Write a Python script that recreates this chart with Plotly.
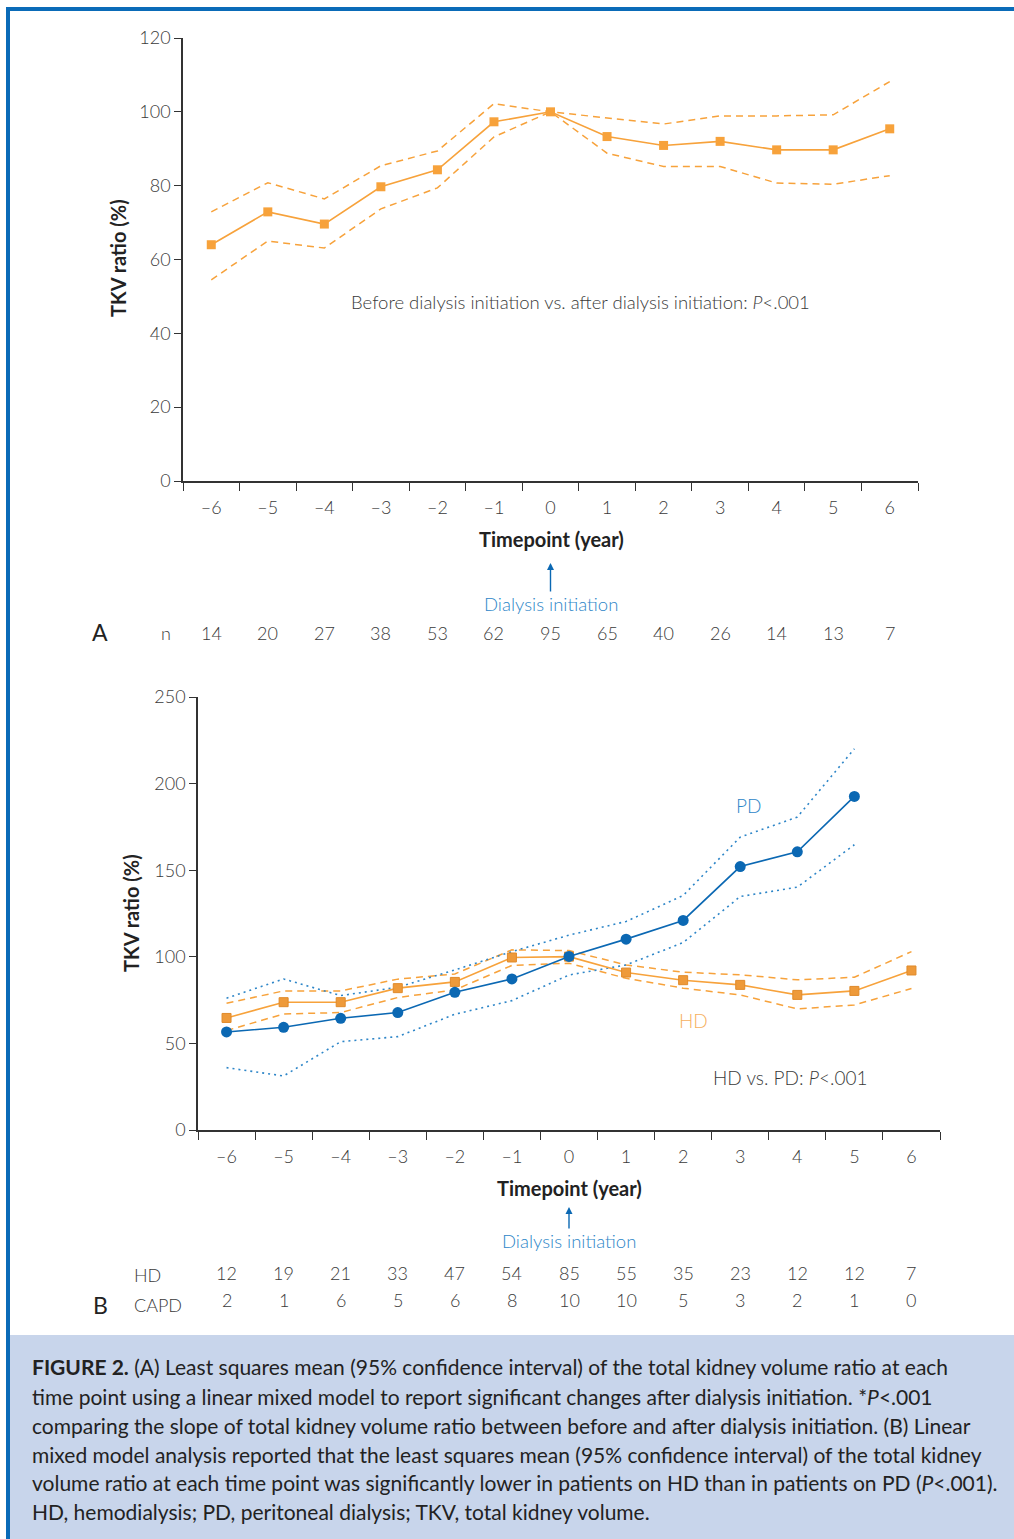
import plotly.graph_objects as go

W, H = 1014, 1539

# ---------------- data ----------------
years = [-6, -5, -4, -3, -2, -1, 0, 1, 2, 3, 4, 5, 6]
year_labels = ["–6", "–5", "–4", "–3", "–2", "–1", "0", "1", "2", "3", "4", "5", "6"]

a_mean = [64.0, 72.9, 69.6, 79.7, 84.3, 97.3, 100.0, 93.3, 90.9, 92.0, 89.7, 89.7, 95.4]
a_upper = [72.9, 80.8, 76.4, 85.4, 89.4, 102.2, 100.0, 98.3, 96.7, 98.9, 98.9, 99.2, 108.2]
a_lower = [54.5, 65.0, 63.1, 73.7, 79.4, 93.2, 100.0, 88.8, 85.2, 85.2, 80.7, 80.4, 82.7]
a_n = [14, 20, 27, 38, 53, 62, 95, 65, 40, 26, 14, 13, 7]

hd_mean = [64.7, 73.8, 73.8, 81.9, 85.5, 99.6, 100.1, 90.9, 86.5, 83.8, 78.0, 80.3, 92.1]
hd_upper = [73.2, 80.3, 80.3, 87.1, 90.1, 104.0, 103.6, 95.3, 91.1, 89.6, 86.7, 88.2, 103.0]
hd_lower = [57.4, 67.0, 67.8, 76.5, 80.9, 95.0, 96.3, 87.6, 81.9, 78.0, 69.9, 72.2, 81.7]

pd_years = [-6, -5, -4, -3, -2, -1, 0, 1, 2, 3, 4, 5]
pd_mean = [56.6, 59.3, 64.5, 67.8, 79.5, 87.2, 100.2, 110.2, 121.0, 152.1, 160.6, 192.6]
pd_upper = [76.1, 87.2, 77.6, 82.4, 92.4, 103.0, 112.5, 120.4, 135.4, 169.1, 180.7, 220.1]
pd_lower = [36.0, 31.2, 51.0, 53.9, 66.8, 74.7, 89.5, 95.3, 108.2, 134.8, 140.2, 164.7]

n_hd = [12, 19, 21, 33, 47, 54, 85, 55, 35, 23, 12, 12, 7]
n_capd = [2, 1, 6, 5, 6, 8, 10, 10, 5, 3, 2, 1, 0]

a_yticks = [0, 20, 40, 60, 80, 100, 120]
b_yticks = [0, 50, 100, 150, 200, 250]

caption_lines = [
    "<b>FIGURE 2.</b> (A) Least squares mean (95% confidence interval) of the total kidney volume ratio at each",
    "time point using a linear mixed model to report significant changes after dialysis initiation. *<i>P</i>&lt;.001",
    "comparing the slope of total kidney volume ratio between before and after dialysis initiation. (B) Linear",
    "mixed model analysis reported that the least squares mean (95% confidence interval) of the total kidney",
    "volume ratio at each time point was significantly lower in patients on HD than in patients on PD (<i>P</i>&lt;.001).",
    "HD, hemodialysis; PD, peritoneal dialysis; TKV, total kidney volume.",
]

# ---------------- style ----------------
FONT = "Lato"
LIGHT = 300
ORANGE = "#F7A23B"
ORANGE_MK = "#EE9A3A"
BLUE = "#0B68B3"
BLUE_TXT = "#2E86C8"
TXT = "#3a3a3a"
AX = "#333333"


def px_x(p):
    return p / W


def px_y(p):
    return 1 - p / H


fig = go.Figure()

# Panel A
fig.add_trace(go.Scatter(x=years, y=a_upper, mode="lines", xaxis="x", yaxis="y",
                         line=dict(color=ORANGE, width=1.5, dash="7px,5px"), cliponaxis=False, showlegend=False))
fig.add_trace(go.Scatter(x=years, y=a_lower, mode="lines", xaxis="x", yaxis="y",
                         line=dict(color=ORANGE, width=1.5, dash="7px,5px"), cliponaxis=False, showlegend=False))
fig.add_trace(go.Scatter(x=years, y=a_mean, mode="lines+markers", xaxis="x", yaxis="y",
                         line=dict(color=ORANGE, width=1.6),
                         marker=dict(symbol="square", size=9, color=ORANGE),
                         cliponaxis=False, showlegend=False))

# Panel B
fig.add_trace(go.Scatter(x=years, y=hd_upper, mode="lines", xaxis="x2", yaxis="y2",
                         line=dict(color=ORANGE, width=1.5, dash="7px,5px"), cliponaxis=False, showlegend=False))
fig.add_trace(go.Scatter(x=years, y=hd_lower, mode="lines", xaxis="x2", yaxis="y2",
                         line=dict(color=ORANGE, width=1.5, dash="7px,5px"), cliponaxis=False, showlegend=False))
fig.add_trace(go.Scatter(x=pd_years, y=pd_upper, mode="lines", xaxis="x2", yaxis="y2",
                         line=dict(color=BLUE_TXT, width=1.6, dash="2px,4px"), cliponaxis=False, showlegend=False))
fig.add_trace(go.Scatter(x=pd_years, y=pd_lower, mode="lines", xaxis="x2", yaxis="y2",
                         line=dict(color=BLUE_TXT, width=1.6, dash="2px,4px"), cliponaxis=False, showlegend=False))
fig.add_trace(go.Scatter(x=years, y=hd_mean, mode="lines+markers", xaxis="x2", yaxis="y2",
                         line=dict(color=ORANGE, width=1.6),
                         marker=dict(symbol="square", size=9, color=ORANGE_MK,
                                     line=dict(color="#E08A2A", width=1)),
                         cliponaxis=False, showlegend=False))
fig.add_trace(go.Scatter(x=pd_years, y=pd_mean, mode="lines+markers", xaxis="x2", yaxis="y2",
                         line=dict(color=BLUE, width=1.6),
                         marker=dict(symbol="circle", size=11, color=BLUE),
                         cliponaxis=False, showlegend=False))

half_ticks = [y - 0.5 for y in years] + [years[-1] + 0.5]

xaxis_common = dict(
    range=[-6.5, 6.5], tickmode="array", tickvals=years, ticktext=year_labels,
    ticks="outside", ticklen=10, tickcolor="rgba(0,0,0,0)", showline=True, linecolor=AX,
    linewidth=1.5, showgrid=False, zeroline=False, fixedrange=True, automargin=False,
    tickfont=dict(family=FONT, size=18, color=TXT, weight=LIGHT),
    minor=dict(tickmode="array", tickvals=half_ticks, ticks="outside", ticklen=8,
               tickcolor=AX, tickwidth=1.3, showgrid=False),
)
yaxis_common = dict(
    tickmode="array", ticks="outside", ticklen=7, tickcolor=AX, tickwidth=1.3,
    showline=True, linecolor=AX, linewidth=1.5, showgrid=False, zeroline=False,
    fixedrange=True, automargin=False,
    tickfont=dict(family=FONT, size=18, color=TXT, weight=LIGHT),
)

fig.update_layout(
    width=W, height=H, margin=dict(l=0, r=0, t=0, b=0, pad=0, autoexpand=False),
    paper_bgcolor="white", plot_bgcolor="rgba(0,0,0,0)",
    font=dict(family=FONT, color=TXT),
    xaxis=dict(domain=[px_x(183), px_x(918)], anchor="y", **xaxis_common),
    yaxis=dict(domain=[px_y(481), px_y(38)], anchor="x", range=[0, 120],
               tickvals=a_yticks, **yaxis_common),
    xaxis2=dict(domain=[px_x(198), px_x(940)], anchor="y2", **xaxis_common),
    yaxis2=dict(domain=[px_y(1130), px_y(697)], anchor="x2", range=[0, 250],
                tickvals=b_yticks, **yaxis_common),
    showlegend=False,
)

ann = []


def text(x, y, s, size=18, color=TXT, xanchor="center", xref="paper", angle=0, weight=LIGHT):
    ann.append(dict(x=x, y=y, xref=xref, yref="paper", text=s, showarrow=False,
                    xanchor=xanchor, yanchor="middle", textangle=angle,
                    font=dict(family=FONT, size=size, color=color, weight=weight)))


# Panel A texts
text(px_x(118), px_y(258), "<b>TKV ratio (%)</b>", size=20, color="#222", angle=-90, weight=400)
text(px_x(551), px_y(539), "<b>Timepoint (year)</b>", size=20, color="#222", weight=400)
text(px_x(580), px_y(302), "Before dialysis initiation vs. after dialysis initiation: <i>P</i>&lt;.001", size=18.5)
text(px_x(100), px_y(632), "A", size=23, color="#222", weight=400)
text(px_x(166), px_y(633), "n", size=18)
for yr, n in zip(years, a_n):
    ann.append(dict(x=yr, y=px_y(633), xref="x", yref="paper", text=str(n), showarrow=False,
                    yanchor="middle", font=dict(family=FONT, size=18, color=TXT, weight=LIGHT)))
ann.append(dict(x=0, y=px_y(563), xref="x", yref="paper", ax=0, ay=41, axref="pixel", ayref="pixel",
                text="Dialysis initiation", showarrow=True, arrowhead=2, arrowsize=1, arrowwidth=1.4,
                arrowcolor=BLUE, font=dict(family=FONT, size=18.5, color=BLUE_TXT, weight=LIGHT)))

# Panel B texts
text(px_x(131), px_y(913), "<b>TKV ratio (%)</b>", size=20, color="#222", angle=-90, weight=400)
text(px_x(569), px_y(1188), "<b>Timepoint (year)</b>", size=20, color="#222", weight=400)
text(px_x(790), px_y(1077), "HD vs. PD: <i>P</i>&lt;.001", size=19)
text(px_x(748), px_y(805), "PD", size=19, color=BLUE_TXT)
text(px_x(693), px_y(1020), "HD", size=19, color="#F6B060")
text(px_x(100), px_y(1305), "B", size=23, color="#222", weight=400)
text(px_x(132), px_y(1275), "HD", size=18, xanchor="left")
text(px_x(132), px_y(1305), "CAPD", size=18, xanchor="left")
for yr, a, b in zip(years, n_hd, n_capd):
    ann.append(dict(x=yr, y=px_y(1273), xref="x2", yref="paper", text=str(a), showarrow=False,
                    yanchor="middle", font=dict(family=FONT, size=18, color=TXT, weight=LIGHT)))
    ann.append(dict(x=yr, y=px_y(1300), xref="x2", yref="paper", text=str(b), showarrow=False,
                    yanchor="middle", font=dict(family=FONT, size=18, color=TXT, weight=LIGHT)))
ann.append(dict(x=0, y=px_y(1207), xref="x2", yref="paper", ax=0, ay=34, axref="pixel", ayref="pixel",
                text="Dialysis initiation", showarrow=True, arrowhead=2, arrowsize=1, arrowwidth=1.4,
                arrowcolor=BLUE, font=dict(family=FONT, size=18.5, color=BLUE_TXT, weight=LIGHT)))

# caption
cap_y = [1366, 1396, 1425, 1454, 1482, 1511]
for yy, line in zip(cap_y, caption_lines):
    text(px_x(30), px_y(yy), line, size=21, color="#222", xanchor="left", weight=400)

fig.update_layout(annotations=ann)

# frame + caption background
fig.add_shape(type="rect", xref="paper", yref="paper", x0=px_x(10), x1=1, y0=0, y1=px_y(1335),
              fillcolor="#C8D5EB", line=dict(width=0), layer="below")
fig.add_shape(type="line", xref="paper", yref="paper", x0=px_x(6), x1=1, y0=px_y(9), y1=px_y(9),
              line=dict(color="#0A6BB8", width=4))
fig.add_shape(type="line", xref="paper", yref="paper", x0=px_x(8), x1=px_x(8), y0=0, y1=px_y(7),
              line=dict(color="#0A6BB8", width=4))

fig.write_html("out.html", config={"displayModeBar": False},
               post_script="document.body.style.margin='0';document.body.style.overflow='hidden';")
